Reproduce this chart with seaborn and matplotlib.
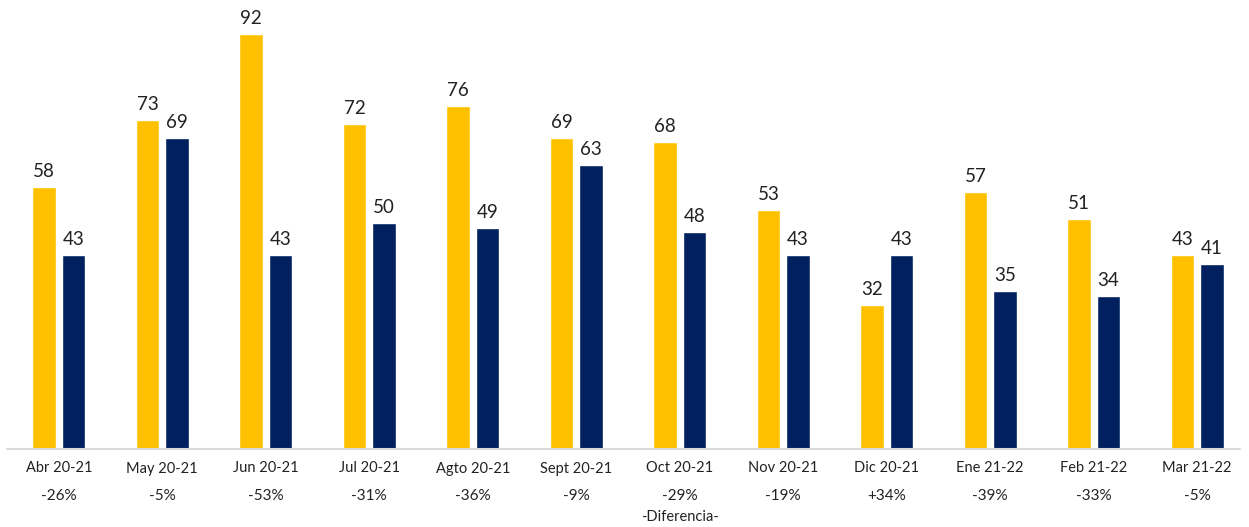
import matplotlib
matplotlib.use("Agg")
import matplotlib.pyplot as plt
import seaborn as sns
import pandas as pd
import matplotlib.transforms as mtrans

categories = ["Abr 20-21", "May 20-21", "Jun 20-21", "Jul 20-21", "Agto 20-21", "Sept 20-21",
              "Oct 20-21", "Nov 20-21", "Dic 20-21", "Ene 21-22", "Feb 21-22", "Mar 21-22"]
serie_anterior = [58, 73, 92, 72, 76, 69, 68, 53, 32, 57, 51, 43]
serie_actual = [43, 69, 43, 50, 49, 63, 48, 43, 43, 35, 34, 41]
diferencias = ["-26%", "-5%", "-53%", "-31%", "-36%", "-9%", "-29%", "-19%", "+34%", "-39%", "-33%", "-5%"]
series_names = ["Anterior", "Actual"]
colors = ["#FFC000", "#002060"]

df = pd.DataFrame({
    "cat": categories * 2,
    "val": serie_anterior + serie_actual,
    "serie": [series_names[0]] * 12 + [series_names[1]] * 12,
})

sns.set_theme(style="white")
plt.rcParams["font.family"] = ["Lato", "DejaVu Sans"]

fig = plt.figure(figsize=(12.49, 5.27), dpi=100)
ax = fig.add_axes([7 / 1249, 78 / 527, 1242 / 1249, 449 / 527])
sns.barplot(data=df, x="cat", y="val", hue="serie", palette=colors, width=0.565, gap=0.19,
            ax=ax, legend=False, saturation=1)

for cont in ax.containers:
    ax.bar_label(cont, fmt="%d", padding=5, fontsize=13.5, color="#222222")

ax.set_ylim(0, 99.5)
ax.set_xlim(-0.5, len(categories) - 0.5)
ax.set_yticks([])
ax.set_xlabel("")
ax.set_ylabel("")
for s in ["top", "right", "left", "bottom"]:
    ax.spines[s].set_visible(False)
ax.axhline(0, xmin=0, xmax=1233 / 1242, color="#D9D9D9", linewidth=1.5, clip_on=False)
ax.tick_params(axis="x", length=0, pad=9, labelsize=10.5, labelcolor="#222222")
ax.set_xticks(range(len(categories)))
ax.set_xticklabels(categories)

trans = mtrans.blended_transform_factory(ax.transData, fig.transFigure)
for i, d in enumerate(diferencias):
    ax.text(i, 1 - 496 / 527, d, transform=trans, ha="center", va="center",
            fontsize=11, color="#222222")
ax.text(6, 1 - 517 / 527, "-Diferencia-", transform=trans, ha="center", va="center",
        fontsize=10.5, color="#222222")

fig.savefig("out.png", dpi=100)
